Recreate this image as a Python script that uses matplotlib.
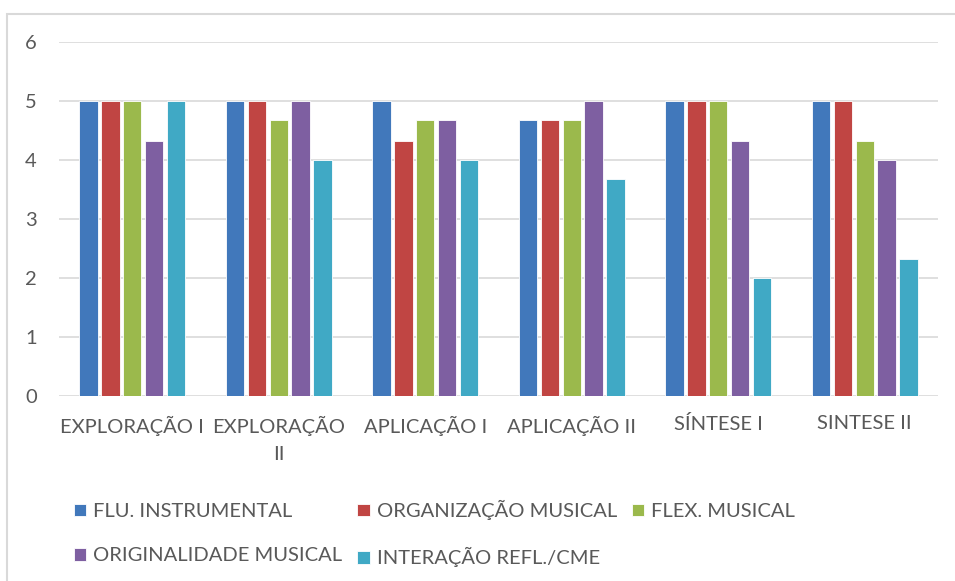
import matplotlib

matplotlib.use("Agg")
import matplotlib.pyplot as plt
import numpy as np
from matplotlib.patches import Rectangle

CATEGORIES = ["EXPLORAÇÃO I", "EXPLORAÇÃO\nII", "APLICAÇÃO I", "APLICAÇÃO II", "SÍNTESE I", "SINTESE II"]
SERIES = ["FLU. INSTRUMENTAL", "ORGANIZAÇÃO MUSICAL", "FLEX. MUSICAL",
          "ORIGINALIDADE MUSICAL", "INTERAÇÃO REFL./CME"]

flu_instrumental = [5, 5, 5, 4.67, 5, 5]
organizacao_musical = [5, 5, 4.33, 4.67, 5, 5]
flex_musical = [5, 4.67, 4.67, 4.67, 5, 4.33]
originalidade_musical = [4.33, 5, 4.67, 5, 4.33, 4]
interacao_refl = [5, 4, 4, 3.67, 2, 2.33]

VALUES = [flu_instrumental, organizacao_musical, flex_musical,
          originalidade_musical, interacao_refl]
COLORS = ["#4178bb", "#c04543", "#9bb94c", "#7e5fa1", "#40a9c5"]
TEXT_COLOR = "#595959"
GRID_COLOR = "#d9d9d9"

plt.rcParams["font.family"] = ["Lato", "DejaVu Sans"]

fig = plt.figure(figsize=(9.55, 5.81), dpi=100)
W, H = 955, 581
ax = fig.add_axes([59 / W, 1 - 396 / H, (938 - 59) / W, (396 - 42) / H])

# chart frame
fig.patches.append(Rectangle((7 / W, -0.1), 1.2, 1 - 14 / H + 0.1, transform=fig.transFigure,
                             fill=False, edgecolor="#d9d9d9", lw=1.5))

x = np.arange(len(CATEGORIES))
slot = 0.149
bar_w = slot * 0.84
handles = []
for i, (vals, col, name) in enumerate(zip(VALUES, COLORS, SERIES)):
    off = (i - 2) * slot
    h = ax.bar(x + off, vals, width=bar_w, color=col, edgecolor="white", lw=0.6,
               label=name, zorder=3)
    handles.append(h)

ax.set_xlim(-0.5, len(CATEGORIES) - 0.5)
ax.set_ylim(0, 6)
ax.set_yticks(range(0, 7))
ax.set_xticks(x)
ax.set_xticklabels(CATEGORIES)
ax.grid(axis="y", color=GRID_COLOR, lw=1.2, zorder=0)
for s in ax.spines.values():
    s.set_visible(False)
ax.tick_params(axis="both", length=0, labelsize=14.5, colors=TEXT_COLOR)
ax.tick_params(axis="y", pad=16)
ax.tick_params(axis="x", pad=14)
for lbl in ax.get_xticklabels():
    lbl.set_va("top")
    lbl.set_linespacing(1.75)

order = [0, 3, 1, 4, 2]
leg = fig.legend([handles[k] for k in order], [SERIES[k] for k in order],
                 ncol=3, loc="upper left", bbox_to_anchor=(56 / W, 1 - 482 / H),
                 frameon=False, fontsize=14.5, handlelength=0.6, handleheight=0.6,
                 handletextpad=0.35, columnspacing=0.75, labelspacing=1.35)
for t in leg.get_texts():
    t.set_color(TEXT_COLOR)

fig.savefig("out.png", dpi=100)
